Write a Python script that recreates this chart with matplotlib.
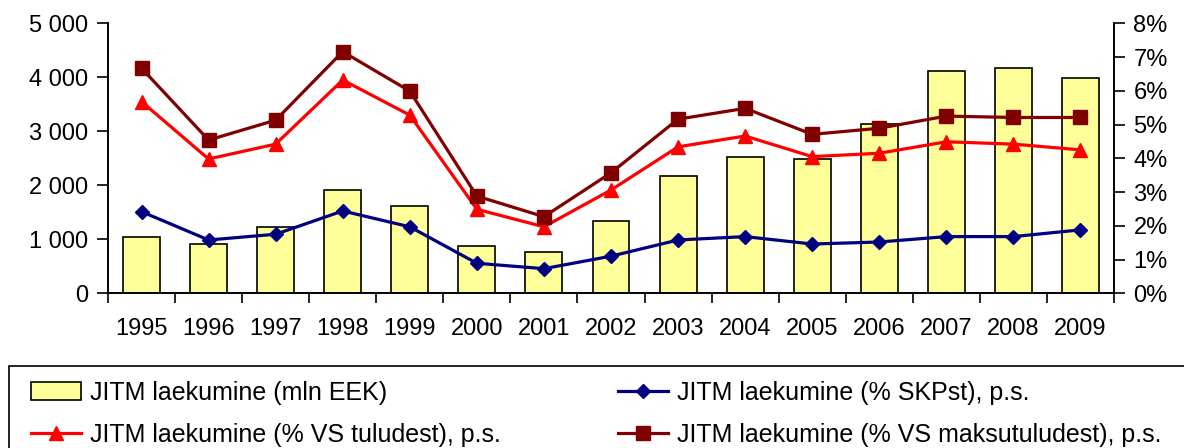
import matplotlib.pyplot as plt
import matplotlib.ticker as mticker
from matplotlib.patches import Rectangle
import numpy as np

plt.rcParams['font.family'] = ['Liberation Sans', 'DejaVu Sans']

# data
years = ['1995', '1996', '1997', '1998', '1999', '2000', '2001', '2002',
         '2003', '2004', '2005', '2006', '2007', '2008', '2009']
laekumine_mln = [1050, 905, 1230, 1910, 1620, 870, 770, 1340,
                 2170, 2530, 2490, 3140, 4110, 4180, 3990]
pct_skp = [2.42, 1.58, 1.75, 2.44, 1.97, 0.89, 0.73, 1.10,
           1.58, 1.68, 1.46, 1.52, 1.68, 1.68, 1.88]
pct_tulud = [5.68, 3.98, 4.42, 6.32, 5.28, 2.49, 1.97, 3.06,
             4.34, 4.66, 4.05, 4.15, 4.49, 4.42, 4.25]
pct_maksutulud = [6.67, 4.54, 5.13, 7.16, 5.99, 2.88, 2.27, 3.57,
                  5.16, 5.48, 4.71, 4.89, 5.25, 5.21, 5.21]

FS = 17
LFS = 18

fig = plt.figure(figsize=(11.84, 4.48), dpi=100)
ax = fig.add_axes([0.0912, 0.3453, 0.8497, 0.6027])
ax2 = ax.twinx()

x = np.arange(len(years))
bars = ax.bar(x, laekumine_mln, width=0.55, color='#FFFF99', edgecolor='black',
              linewidth=1.2, label='JITM laekumine (mln EEK)')
ax.set_ylim(0, 5000)
ax.set_xlim(-0.5, len(years) - 0.5)
ax.yaxis.set_major_locator(mticker.MultipleLocator(1000))
ax.yaxis.set_major_formatter(mticker.FuncFormatter(lambda v, p: f'{int(v):,}'.replace(',', ' ')))
ax.set_xticks(x)
ax.set_xticklabels(years)
ax.set_xticks(np.arange(-0.5, len(years)), minor=True)
ax.tick_params(axis='x', which='major', length=0, pad=18, labelsize=FS)
ax.tick_params(axis='x', which='minor', length=7, width=1.2, direction='out')
ax.tick_params(axis='y', length=8, width=1.2, pad=6, labelsize=FS)

l_skp, = ax2.plot(x, pct_skp, color='#000080', lw=2.3, marker='D', ms=7.5,
                  label='JITM laekumine (% SKPst), p.s.')
l_tul, = ax2.plot(x, pct_tulud, color='#FF0000', lw=2.3, marker='^', ms=10.5,
                  label='JITM laekumine (% VS tuludest), p.s.')
l_mak, = ax2.plot(x, pct_maksutulud, color='#800000', lw=2.3, marker='s', ms=10,
                  label='JITM laekumine (% VS maksutuludest), p.s.')
ax2.set_ylim(0, 8)
ax2.yaxis.set_major_locator(mticker.MultipleLocator(1))
ax2.yaxis.set_major_formatter(mticker.FuncFormatter(lambda v, p: f'{v:.0f}%'))
ax2.tick_params(axis='y', length=8, width=1.2, pad=6, labelsize=FS)

for a in (ax, ax2):
    a.spines['top'].set_visible(False)
    for s in ('left', 'right', 'bottom'):
        a.spines[s].set_linewidth(1.2)

# legend frame runs off the bottom and right edge of the picture
fig.patches.append(Rectangle((0.0076, -0.2), 1.2, 0.383, transform=fig.transFigure,
                             facecolor='white', edgecolor='black', lw=1.2, zorder=0))
fig.legend([bars, l_tul, l_skp, l_mak],
           [bars.get_label(), l_tul.get_label(), l_skp.get_label(), l_mak.get_label()],
           ncol=2, loc='upper left', bbox_to_anchor=(0.0175, 0.172), frameon=False,
           fontsize=LFS, handlelength=2.0, handletextpad=0.36, columnspacing=4.7,
           labelspacing=0.72, numpoints=1, borderaxespad=0)

fig.savefig('out.png', dpi=100)
